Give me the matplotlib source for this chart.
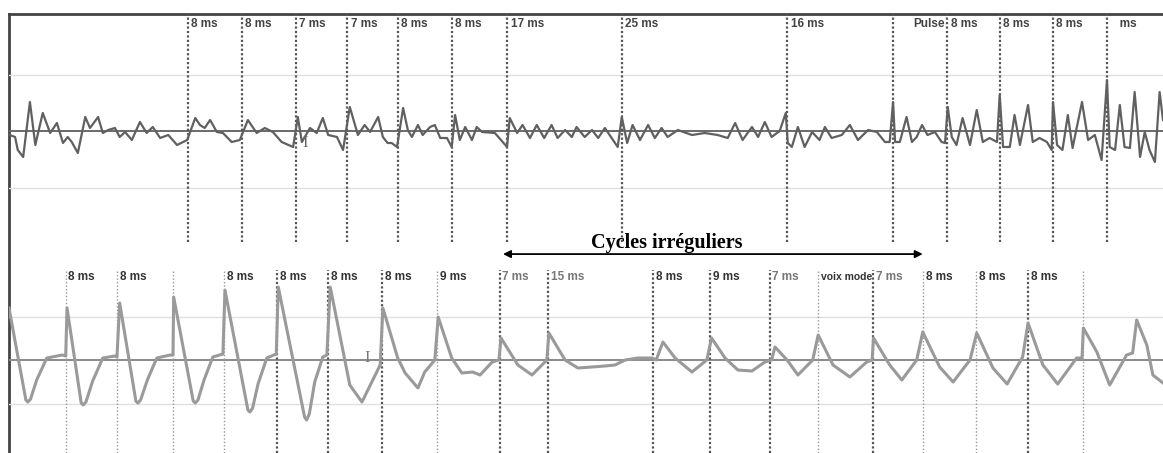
import numpy as np
import matplotlib.pyplot as plt

# time in ms, amplitude in arbitrary units (0 = baseline)
top_t = [0.1, 0.9, 1.3, 2.1, 3.1, 3.9, 5.0, 6.1, 7.1, 8.0, 8.7, 9.3, 10.2, 11.3, 12.0, 13.2, 13.9,
         14.7, 15.7, 16.4, 17.2, 18.2, 19.4, 20.4, 21.3, 22.4, 23.6, 24.9, 26.4, 27.6, 28.3, 29.0,
         29.8, 30.8, 31.7, 33.0, 34.2, 35.4, 36.7, 37.9, 39.1, 40.4, 42.1, 42.8, 43.4, 44.6, 45.6,
         46.5, 47.3, 48.6, 49.5, 50.5, 51.7, 52.7, 53.5, 54.7, 55.4, 56.1, 56.7, 57.5, 58.4, 59.1,
         59.7, 60.6, 61.3, 62.4, 63.1, 63.9, 64.9, 65.6, 66.1, 66.8, 67.6, 68.6, 69.3, 70.1, 72.0,
         73.8, 74.2, 75.3, 76.1, 77.2, 78.2, 79.3, 80.4, 81.3, 82.4, 83.4, 84.1, 85.3, 86.4, 87.3,
         88.3, 90.2, 90.8, 91.6, 92.4, 93.5, 94.7, 95.7, 96.7, 97.6, 99.1, 101.2, 103.1, 105.0,
         106.5, 107.6, 108.7, 110.1, 111.0, 112.0, 113.0, 114.2, 115.1, 115.4, 116.0, 116.9, 117.9,
         119.0, 120.1, 120.9, 121.9, 123.4, 124.6, 125.8, 127.3, 128.6, 129.8, 130.5, 131.0, 131.3,
         132.0, 133.0, 133.8, 134.5, 135.3, 136.1, 137.2, 138.2, 138.7, 139.1, 139.7, 140.4, 141.3,
         142.4, 143.4, 144.3, 145.3, 146.4, 146.8, 147.3, 148.3, 149.0, 149.8, 151.0, 151.7, 152.7,
         153.8, 154.5, 154.7, 155.3, 156.1, 156.9, 157.6, 159.0, 159.9, 160.9, 161.9, 162.7, 163.1,
         163.9, 164.6, 165.3, 166.1, 166.8, 167.6, 168.3, 169.0, 169.8, 170.5, 171.0]
top_a = [-4, -6, -19, -26, 29, -14, 18, -2, 8, -12, -6, -11, -22, 14, 3, 14, -2,
         1, 3, -6, -1, -9, 9, -2, 4, -7, -4, -14, -9, 13, 6, 3,
         11, -1, -2, -11, -9, 11, -2, 3, -1, -11, -16, 14, -11, 3, -2,
         13, -4, -6, -19, 24, -4, 6, -1, 14, -6, -12, -12, -16, 23, 1,
         -6, 6, -4, 4, 6, -7, -7, -16, 16, -9, 4, -9, 4, -1, -2,
         -16, 13, -2, 6, -7, 6, -7, 6, -7, 1, -6, 4, -6, 1, -7,
         3, -16, 14, -12, 6, -9, 6, -7, 3, -6, 1, -4, -2, -4,
         -7, 8, -9, 4, -6, 9, -6, 0, 18, -12, -16, 4, -16,
         -1, -9, 4, -7, -4, 6, -9, 1, -1, -11, -11, 29, -11,
         -11, 14, -11, -6, 6, -4, -1, -11, -12, 24, -6, -14, 13,
         -14, 21, -11, -7, -11, 36, -16, -16, 16, -14, 26, -11, -7,
         -11, -19, 29, -14, -19, 16, -17, 29, -9, -4, -29, 51, -16,
         -19, 26, -16, -17, 39, -26, -1, -19, -31, 39, 11]

bot_t = [0.0, 2.5, 2.8, 3.2, 4.1, 5.6, 7.9, 8.4, 8.6, 10.7, 11.0, 11.4, 12.4, 13.9, 15.7, 16.0,
         16.4, 18.8, 19.1, 19.5, 20.5, 21.9, 23.9, 24.3, 24.4, 27.3, 27.6, 28.0, 28.9, 30.2, 31.7,
         32.0, 35.4, 35.7, 36.1, 36.9, 38.2, 39.6, 39.9, 43.8, 44.1, 44.5, 45.3, 46.5, 47.1, 47.6,
         50.5, 52.3, 55.0, 55.4, 57.6, 58.7, 60.6, 61.6, 63.1, 63.6, 65.6, 67.1, 68.7, 69.8, 71.6,
         72.6, 72.9, 75.4, 77.5, 79.7, 80.0, 82.4, 84.3, 86.4, 88.3, 89.8, 91.3, 93.2, 95.3,
         95.9, 96.9, 98.7, 101.2, 103.4, 104.1, 106.1, 108.0, 110.1, 112.0, 113.0, 113.5, 115.3,
         116.9, 119.1, 119.9, 122.1, 124.6, 127.1, 127.9, 128.1, 130.5, 132.3, 134.5, 135.4,
         137.9, 139.9, 142.4, 143.4, 145.8, 147.9, 150.2, 151.0, 153.2, 155.4, 158.2, 159.0,
         159.2, 161.2, 163.1, 165.6, 166.5, 167.1, 168.6, 169.5, 171.0]
bot_a = [52, -40, -42, -39, -20, 2, 5, 4, 52, -43, -45, -42, -21, 2, 4, 3,
         57, -41, -43, -40, -20, 2, 5, 5, 63, -41, -43, -40, -20, 3, 6,
         70, -50, -52, -48, -24, 2, 6, 73, -57, -60, -54, -22, 3, 5, 73,
         -25, -42, -5, 52, 2, -13, -28, -12, 0, 43, 2, -13, -12, -15, -2,
         0, 22, -5, -15, 0, 27, 0, -8, -7, -6, -5, 0, 2, 2,
         0, 18, 2, -12, 0, 22, 2, -10, -11, -2, 0, 13, 0,
         -15, 0, 25, -5, -17, -2, 0, 22, -5, -20, 0, 28,
         -7, -22, 0, 27, -8, -24, 3, 37, -5, -24, 2, 2,
         32, 8, -25, 5, 7, 40, 15, -15, -23]

# cycle markers (ms) and their labels
top_marks = [26.5, 34.5, 42.5, 50.1, 57.6, 65.6, 73.8, 90.8, 115.3, 131.0, 139.0, 146.8, 154.7, 162.7]
top_labels = ['8 ms', '8 ms', '7 ms', '7 ms', '8 ms', '8 ms', '17 ms', '25 ms', '16 ms', '',
              '8 ms', '8 ms', '8 ms', '   ms']
bot_marks = [8.4, 16.0, 24.3, 31.9, 39.7, 47.3, 55.3, 63.4, 72.7, 79.9, 95.4, 103.9, 112.7,
             119.9, 128.0, 135.4, 143.3, 151.0, 159.1]
bot_labels = ['8 ms', '8 ms', '', '8 ms', '8 ms', '8 ms', '8 ms', '9 ms', '7 ms', '15 ms', '8 ms',
              '9 ms', '7 ms', 'voix mode', '7 ms', '8 ms', '8 ms', '8 ms', '']
irregular = (73.2, 135.4)

W, H = 1163, 453
fig = plt.figure(figsize=(W / 100, H / 100), dpi=100)

# frame (left + top only)
bg = fig.add_axes([9 / W, 0, 1 - 9 / W, (H - 14) / H])
bg.set_xticks([]); bg.set_yticks([])
for s in ['right', 'bottom']:
    bg.spines[s].set_visible(False)
for s in ['left', 'top']:
    bg.spines[s].set_color('#444444')
    bg.spines[s].set_linewidth(2)
bg.patch.set_alpha(0)

ax1 = fig.add_axes([9 / W, (H - 242) / H, 1 - 9 / W, 228 / H])
ax2 = fig.add_axes([9 / W, 0, 1 - 9 / W, 183 / H])

for ax in (ax1, ax2):
    ax.set_xlim(0, 171)
    ax.axis('off')
ax1.set_ylim(-111, 117)
ax2.set_ylim(-93, 90)

for y in (56, -57):
    ax1.axhline(y, color='#e0e0e0', lw=1, zorder=1)
for y in (43, -44):
    ax2.axhline(y, color='#e0e0e0', lw=1, zorder=1)
ax1.axhline(0, color='#6a6a6a', lw=1.4, zorder=2)
ax2.axhline(0, color='#8a8a8a', lw=1.4, zorder=2)

lab_kw = dict(textcoords='offset points', fontweight='bold', va='center', family='Liberation Sans')

for t, lab in zip(top_marks, top_labels):
    ax1.axvline(t, color='#555555', lw=1.6, ls=(0, (1, 1)), zorder=3)
    ax1.annotate(lab, (t, 0.955), xycoords=('data', 'axes fraction'), xytext=(2.5, 0),
                 fontsize=8.5, color='#444444', ha='left', **lab_kw)
ax1.annotate('Pulse', (139.0, 0.955), xycoords=('data', 'axes fraction'), xytext=(-1.5, 0),
             fontsize=8.5, color='#444444', ha='right', **lab_kw)

dark = {'8 ms', '9 ms', 'voix mode'}
strong = [False, False, False, False, True, True, True, False, True, True, True, True, True,
          False, True, False, False, True, False]
for t, lab, st in zip(bot_marks, bot_labels, strong):
    if st:
        ax2.axvline(t, color='#555555', lw=1.6, ls=(0, (1, 1)), zorder=3)
    else:
        ax2.axvline(t, color='#999999', lw=1.0, ls=(0, (1, 1.5)), zorder=3)
    ax2.annotate(lab, (t, 0.962), xycoords=('data', 'axes fraction'), xytext=(2, 0),
                 fontsize=7.5 if lab == 'voix mode' else 8.5,
                 color='#333333' if lab in dark else '#777777', ha='left', **lab_kw)

ax1.plot(top_t, top_a, color='#606060', lw=1.6, zorder=4, solid_joinstyle='round')
ax2.plot(bot_t, bot_a, color='#9a9a9a', lw=2.2, zorder=4, solid_joinstyle='round')

# text cursors visible in the capture
ax1.text(43.9, -12, 'I', fontsize=12, color='#666666', family='Liberation Serif',
         ha='center', va='center', zorder=6)
ax2.text(53.0, 2, 'I', fontsize=12, color='#777777', family='Liberation Serif',
         ha='center', va='center', zorder=6)

ax2.annotate('', xy=(irregular[0], 1.087), xytext=(irregular[1], 1.087),
             xycoords=('data', 'axes fraction'), textcoords=('data', 'axes fraction'),
             arrowprops=dict(arrowstyle='<|-|>', color='black', lw=1.3, mutation_scale=11,
                             shrinkA=0, shrinkB=0), annotation_clip=False)
ax2.text(97.5, 1.15, 'Cycles irréguliers', transform=ax2.get_xaxis_transform(),
         ha='center', va='center', fontsize=14.5, fontweight='bold', family='Liberation Serif',
         clip_on=False)

fig.savefig('out.png', dpi=100)
